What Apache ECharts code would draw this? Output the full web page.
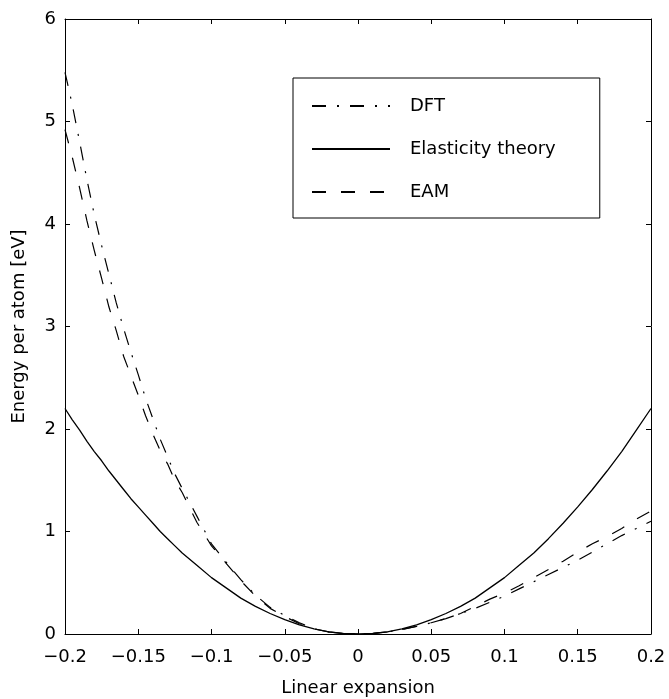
<!DOCTYPE html>
<html>
<head>
<meta charset="utf-8">
<style>
  html, body { margin: 0; padding: 0; background: #fff; }
  #chart { width: 669px; height: 699px; }
</style>
<script src="https://cdn.jsdelivr.net/npm/echarts@6/dist/echarts.min.js"></script>
</head>
<body>
<div id="chart"></div>
<script>
const seriesNames = ["DFT", "Elasticity theory", "EAM"];

const xValues = [
  -0.2, -0.195, -0.19, -0.185, -0.18, -0.175, -0.17, -0.165, -0.16, -0.155,
  -0.15, -0.145, -0.14, -0.135, -0.13, -0.125, -0.12, -0.11, -0.1, -0.09,
  -0.08, -0.07, -0.06, -0.05, -0.04, -0.03, -0.02, -0.01, 0, 0.01,
  0.02, 0.03, 0.04, 0.05, 0.06, 0.07, 0.08, 0.09, 0.1, 0.11,
  0.12, 0.13, 0.14, 0.15, 0.16, 0.17, 0.18, 0.19, 0.2
];

const dftValues = [
  5.48, 5.16, 4.80, 4.43, 4.09, 3.79, 3.51, 3.23, 2.98, 2.75,
  2.53, 2.30, 2.10, 1.90, 1.73, 1.56, 1.42, 1.15, 0.88, 0.70,
  0.53, 0.38, 0.26, 0.18, 0.11, 0.05, 0.02, 0.005, 0, 0.005,
  0.02, 0.045, 0.075, 0.11, 0.15, 0.20, 0.25, 0.31, 0.37, 0.44,
  0.51, 0.58, 0.65, 0.72, 0.80, 0.88, 0.96, 1.03, 1.10
];

const elasticityValues = [
  2.20, 2.09, 1.99, 1.88, 1.78, 1.69, 1.59, 1.50, 1.41, 1.32,
  1.24, 1.16, 1.08, 1.00, 0.93, 0.86, 0.79, 0.67, 0.55, 0.45,
  0.35, 0.27, 0.20, 0.14, 0.09, 0.05, 0.02, 0.005, 0, 0.005,
  0.02, 0.05, 0.09, 0.14, 0.20, 0.27, 0.35, 0.45, 0.55, 0.67,
  0.79, 0.93, 1.08, 1.24, 1.41, 1.59, 1.78, 1.99, 2.20
];

const eamValues = [
  4.92, 4.65, 4.35, 4.03, 3.74, 3.47, 3.19, 2.96, 2.71, 2.52,
  2.33, 2.13, 1.95, 1.79, 1.66, 1.50, 1.38, 1.09, 0.86, 0.69,
  0.52, 0.37, 0.25, 0.17, 0.10, 0.05, 0.02, 0.005, 0, 0.005,
  0.02, 0.045, 0.075, 0.11, 0.15, 0.20, 0.27, 0.34, 0.40, 0.47,
  0.55, 0.63, 0.71, 0.80, 0.88, 0.95, 1.03, 1.12, 1.20
];

const FONT = "DejaVu Sans";
const axisColor = "#000";

function pairs(ys) {
  return xValues.map((x, i) => [x, ys[i]]);
}

function fmtTick(v) {
  if (Math.abs(v) < 1e-9) return "0";
  return String(+v.toFixed(2)).replace("-", "\u2212");
}

const baseX = {
  type: "value",
  min: -0.2,
  max: 0.2,
  interval: 0.05,
  axisLine: { show: true, onZero: false, lineStyle: { color: axisColor, width: 1 } },
  axisTick: { show: true, inside: true, length: 5, lineStyle: { color: axisColor } },
  splitLine: { show: false }
};
const baseY = {
  type: "value",
  min: 0,
  max: 6,
  interval: 1,
  axisLine: { show: true, onZero: false, lineStyle: { color: axisColor, width: 1 } },
  axisTick: { show: true, inside: true, length: 5, lineStyle: { color: axisColor } },
  splitLine: { show: false }
};

const lineStyles = {
  "DFT": { color: "#000", width: 1.2, type: [14, 11, 2, 11] },
  "Elasticity theory": { color: "#000", width: 1.3, type: "solid" },
  "EAM": { color: "#000", width: 1.2, type: [14, 15] }
};
const dataByName = {
  "DFT": dftValues,
  "Elasticity theory": elasticityValues,
  "EAM": eamValues
};

const chart = echarts.init(document.getElementById("chart"), null, { renderer: "canvas" });
chart.setOption({
  animation: false,
  backgroundColor: "#fff",
  textStyle: { fontFamily: FONT },
  grid: { left: 65, right: 18, top: 19, bottom: 65, containLabel: false, outerBoundsMode: "none" },
  legend: {
    orient: "vertical",
    left: 293,
    top: 78,
    data: seriesNames,
    itemWidth: 78,
    itemHeight: 20,
    itemGap: 23,
    padding: [18, 44, 16, 18],
    backgroundColor: "#fff",
    borderColor: "#000",
    borderWidth: 1,
    borderRadius: 0,
    itemStyle: { color: "transparent", opacity: 0, borderWidth: 0 },
    textStyle: { color: "#000", fontSize: 18, fontFamily: FONT, lineHeight: 20, padding: [0, 0, 0, 15] }
  },
  xAxis: [
    Object.assign({}, baseX, {
      position: "bottom",
      name: "Linear expansion",
      nameLocation: "middle",
      nameGap: 45,
      nameTextStyle: { color: "#000", fontSize: 18, fontFamily: FONT },
      axisLabel: { color: "#000", fontSize: 18, fontFamily: FONT, margin: 14, formatter: fmtTick }
    }),
    Object.assign({}, baseX, { position: "top", axisLabel: { show: false } })
  ],
  yAxis: [
    Object.assign({}, baseY, {
      position: "left",
      name: "Energy per atom [eV]",
      nameLocation: "middle",
      nameGap: 37,
      nameTextStyle: { color: "#000", fontSize: 18, fontFamily: FONT },
      axisLabel: { color: "#000", fontSize: 18, fontFamily: FONT, margin: 9 }
    }),
    Object.assign({}, baseY, { position: "right", axisLabel: { show: false } })
  ],
  series: seriesNames.map((name) => ({
    name,
    type: "line",
    xAxisIndex: 0,
    yAxisIndex: 0,
    data: pairs(dataByName[name]),
    symbol: "none",
    smooth: false,
    lineStyle: lineStyles[name],
    itemStyle: { color: "#000" }
  }))
});
</script>
</body>
</html>
